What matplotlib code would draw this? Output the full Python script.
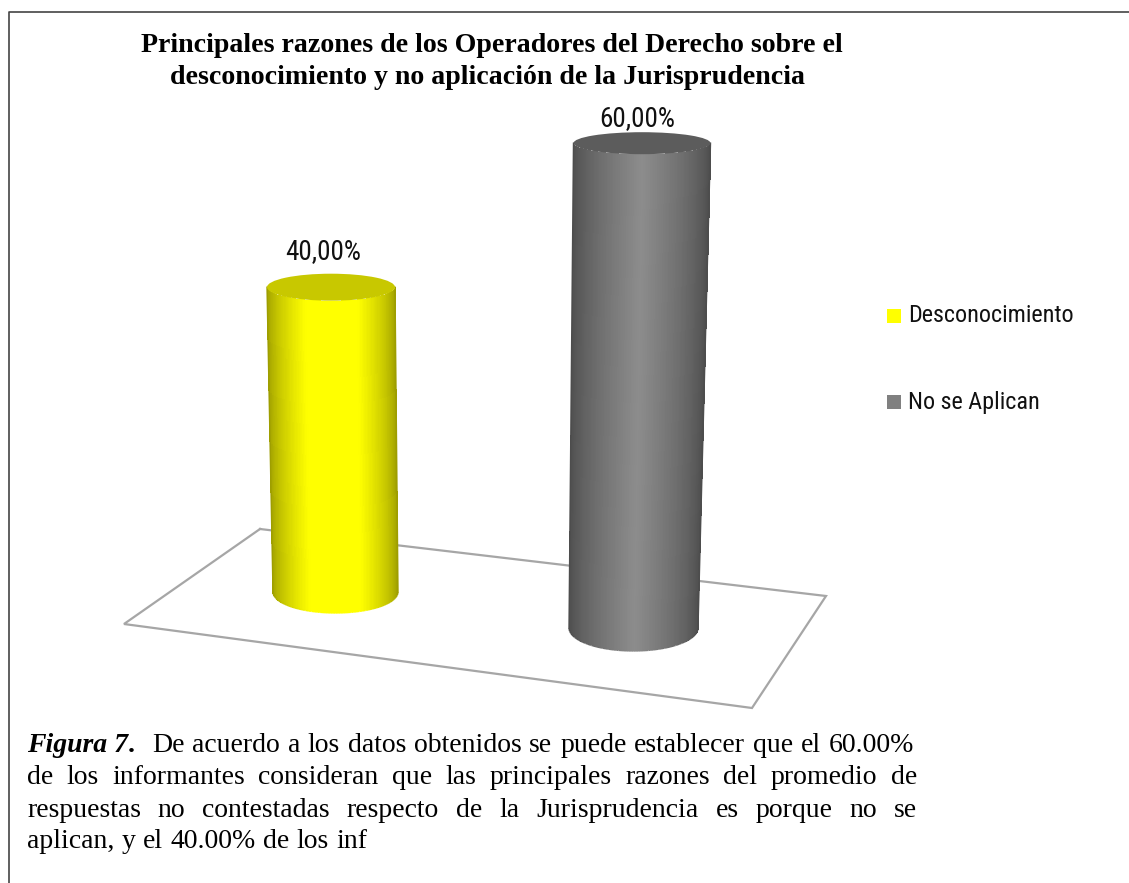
import matplotlib
matplotlib.use('Agg')
import matplotlib.pyplot as plt
import numpy as np
from matplotlib.collections import LineCollection
from matplotlib.patches import Ellipse, Rectangle

# datos
categorias = ['Desconocimiento', 'No se Aplican']
valores = [40.00, 60.00]

titulo = ['Principales razones de los Operadores del Derecho sobre el',
          'desconocimiento y no aplicación de la Jurisprudencia']
texto = ['De acuerdo a los datos obtenidos se puede establecer que el 60.00%',
         'de los informantes consideran que las principales razones del promedio de',
         'respuestas no contestadas respecto de la Jurisprudencia es porque no se',
         'aplican, y el 40.00% de los inf']

# estilos (pixeles de la imagen)
col_claro = [(1.0, 1.0, 0.0), (0.55, 0.55, 0.55)]
col_oscuro = [(0.62, 0.62, 0.0), (0.30, 0.30, 0.30)]
col_tapa = ['#c8c800', '#5c5c5c']
col_leyenda = ['#ffff00', '#808080']
base_x = [335.5, 633.5]
base_y = [592, 628]
tapa_x = [331, 642]
px_por_valor = [7.62, 8.08]
semi_a_base = [62.5, 64.5]
semi_a_tapa = [64, 68.5]
semi_b_tapa = [13.5, 11]
semi_b_base = [21, 23]
ancho_luz = [0.30, 0.50]
etq_dx = [-8, -5]
etq_dy = [36, 25]
fuente_sans = ['Roboto Condensed', 'Liberation Sans']

fig = plt.figure(figsize=(11.29, 8.83), dpi=100)
ax = fig.add_axes([0, 0, 1, 1])
ax.set_xlim(0, 1129)
ax.set_ylim(883, 0)
ax.axis('off')

# marco
ax.plot([8.5, 8.5, 1129], [883, 12, 12], color='#444444', lw=1.2)

# piso
piso_x = [260, 826, 752, 124, 260]
piso_y = [529, 596, 708, 624, 529]
ax.plot(piso_x, piso_y, color='#a6a6a6', lw=1.6, zorder=1, solid_joinstyle='miter')

# cilindros
for i in range(len(valores)):
    tapa_y = base_y[i] - valores[i] * px_por_valor[i]
    t = np.linspace(np.pi, 0, 121)
    xt = tapa_x[i] + semi_a_tapa[i] * np.cos(t)
    yt = tapa_y + semi_b_tapa[i] * np.sin(t)
    xb = base_x[i] + semi_a_base[i] * np.cos(t)
    yb = base_y[i] + semi_b_base[i] * np.sin(t)
    X = np.array([xt, xb])
    Y = np.array([yt, yb])
    # sombra: oscuro en los bordes, claro hacia el centro
    u = (np.cos(t[:-1]) + 1) / 2
    luz = np.clip(np.minimum(u, 1 - u) / ancho_luz[i], 0, 1) ** 0.7
    C = np.zeros((1, 120, 3))
    for c in range(3):
        C[0, :, c] = col_oscuro[i][c] + (col_claro[i][c] - col_oscuro[i][c]) * luz
    ax.pcolormesh(X, Y, C, shading='flat', zorder=2, antialiased=False, linewidth=0)
    # lineas finas para suavizar los bordes del cuerpo
    ax.plot([xt[0], xb[0]], [yt[0], yb[0]], color=col_oscuro[i], lw=1, zorder=3)
    ax.plot([xt[-1], xb[-1]], [yt[-1], yb[-1]], color=col_oscuro[i], lw=1, zorder=3)
    seg = [[(xb[k], yb[k]), (xb[k + 1], yb[k + 1])] for k in range(120)]
    ax.add_collection(LineCollection(seg, colors=C[0], linewidths=1, zorder=3))
    ax.add_patch(Ellipse((tapa_x[i], tapa_y), semi_a_tapa[i] * 2, semi_b_tapa[i] * 2,
                         facecolor=col_tapa[i], edgecolor='none', zorder=4))
    etiqueta = f'{valores[i]:.2f}'.replace('.', ',') + '%'
    ax.text(tapa_x[i] + etq_dx[i], tapa_y - etq_dy[i], etiqueta, fontsize=19.5, family=fuente_sans,
            ha='center', va='center', color='#111111')

# leyenda
ley_y = [316, 402]
for i in range(len(categorias)):
    ax.add_patch(Rectangle((887, ley_y[i] - 7), 14, 14, facecolor=col_leyenda[i], edgecolor='none'))
    ax.text(908, ley_y[i], categorias[i], fontsize=17.4, family=fuente_sans,
            va='center', ha='left', color='#111111')

# titulo
ax.text(491.5, 52, titulo[0], fontsize=20.1, family='Liberation Serif', weight='bold', ha='center', va='baseline')
ax.text(487.5, 84, titulo[1], fontsize=20.1, family='Liberation Serif', weight='bold', ha='center', va='baseline')


def ancho(t):
    r = fig.canvas.get_renderer()
    return t.get_window_extent(r).width


def justificada(linea, x0, x1, y, justif=True):
    # escribe palabra por palabra para justificar
    objs = [ax.text(x0, y, p, fontsize=20, family='Liberation Serif', va='baseline', ha='left')
            for p in linea.split(' ')]
    anchos = [ancho(o) for o in objs]
    hueco = (x1 - x0 - sum(anchos)) / (len(objs) - 1) if justif else 7.3
    x = x0
    for o, a in zip(objs, anchos):
        o.set_x(x)
        x += a + hueco


pie = ax.text(27, 752, 'Figura 7', fontsize=20, family='Liberation Serif', weight='bold', style='italic', va='baseline')
ax.text(27 + ancho(pie), 752, '.', fontsize=20, family='Liberation Serif', weight='bold', va='baseline')
justificada(texto[0], 152, 914, 752)
justificada(texto[1], 27, 917, 784)
justificada(texto[2], 27, 917, 817)
justificada(texto[3], 27, 917, 848, justif=False)

fig.savefig('out.png', dpi=100)
